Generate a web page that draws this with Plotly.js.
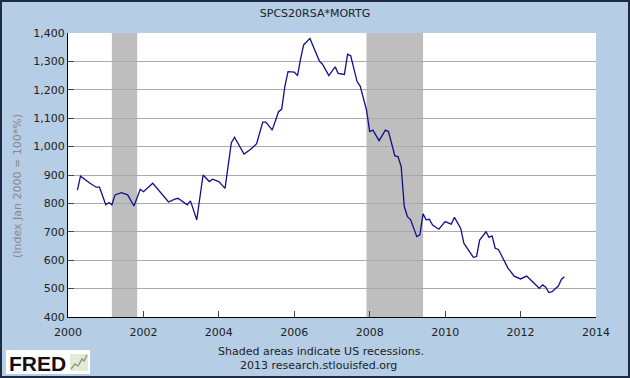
<!DOCTYPE html>
<html>
<head>
<meta charset="utf-8">
<script src="https://cdn.plot.ly/plotly-3.0.1.min.js"></script>
<style>
  html, body { margin: 0; padding: 0; background: #1F2B45; }
  #wrap { width: 626px; height: 374px; border: 2px solid #1F2B45; }
  #chart { width: 626px; height: 374px; }
</style>
</head>
<body>
<div id="wrap"><div id="chart"></div></div>
<script>
const dates = ['2000-04','2000-05','2000-08','2000-10','2000-11',
  '2001-01','2001-02','2001-03','2001-04','2001-06','2001-08','2001-10','2001-12',
  '2002-01','2002-04','2002-09','2002-11','2002-12',
  '2003-03','2003-04','2003-06','2003-08','2003-10','2003-11',
  '2004-01','2004-03','2004-05','2004-06','2004-09','2004-11',
  '2005-01','2005-03','2005-04','2005-06','2005-08','2005-09','2005-10','2005-11',
  '2006-01','2006-02','2006-03','2006-04','2006-06','2006-08','2006-09','2006-10','2006-12',
  '2007-02','2007-03','2007-05','2007-06','2007-07','2007-08','2007-09','2007-10','2007-12',
  '2008-01','2008-02','2008-04','2008-06','2008-07','2008-09','2008-10','2008-11','2008-12',
  '2009-01','2009-02','2009-04','2009-05','2009-06','2009-07','2009-08','2009-09','2009-11',
  '2010-01','2010-03','2010-04','2010-06','2010-07','2010-10','2010-11','2010-12',
  '2011-02','2011-03','2011-04','2011-05','2011-06','2011-09','2011-11',
  '2012-01','2012-03','2012-05','2012-07','2012-08','2012-09','2012-10','2012-11',
  '2013-01','2013-02','2013-03'];
const values = [847,896,871,857,857,
  795,803,795,830,838,830,791,850,
  841,871,805,815,818,
  795,809,742,900,877,885,
  877,853,1014,1033,974,990,
  1010,1086,1086,1058,1123,1132,1211,1264,
  1262,1250,1305,1358,1381,1325,1301,1290,1250,
  1281,1258,1254,1325,1320,1270,1229,1213,1129,
  1053,1058,1021,1058,1053,967,965,930,789,
  753,742,683,689,763,742,744,724,709,
  736,727,751,712,660,610,613,671,
  700,681,685,642,638,572,544,
  534,544,524,501,513,505,486,489,
  509,533,542];
const recessionStarts = ['2001-03-01','2007-12-01'];
const recessionEnds = ['2001-11-01','2009-06-01'];
const chartTitle = 'SPCS20RSA*MORTG';
const yAxisTitle = '(Index Jan 2000 = 100*%)';
const note1 = 'Shaded areas indicate US recessions.';
const note2 = '2013 research.stlouisfed.org';

const FONT = 'DejaVu Sans, Verdana, sans-serif';
const W = 626, H = 374;
const mL = 66, mR = 32, mT = 31, mB = 59;
const pw = W - mL - mR, ph = H - mT - mB;
const px = v => (v - mL) / pw;       // absolute x -> paper
const py = v => (H - mB - v) / ph;   // absolute y -> paper

const shapes = recessionStarts.map((s, i) => ({
  type: 'rect', xref: 'x', yref: 'paper', x0: s, x1: recessionEnds[i], y0: 0, y1: 1,
  fillcolor: '#BEBEBE', line: {width: 0}, layer: 'between'
}));
// FRED logo box
shapes.push({type: 'rect', xref: 'paper', yref: 'paper', x0: px(4), x1: px(88), y0: py(372), y1: py(348),
  fillcolor: '#FFFFFF', line: {width: 0}, layer: 'above'});
shapes.push({type: 'rect', xref: 'paper', yref: 'paper', x0: px(68), x1: px(86), y0: py(369), y1: py(352),
  fillcolor: '#E4EAD8', line: {width: 0}, layer: 'above'});
shapes.push({type: 'path', xref: 'paper', yref: 'paper',
  path: 'M ' + px(69) + ' ' + py(367) + ' L ' + px(73) + ' ' + py(362) + ' L ' + px(76) + ' ' + py(364) +
        ' L ' + px(80) + ' ' + py(357) + ' L ' + px(82) + ' ' + py(359) + ' L ' + px(85) + ' ' + py(353),
  line: {color: '#8AA07A', width: 1.5}, layer: 'above'});

const trace = {
  x: dates, y: values, type: 'scatter', mode: 'lines',
  line: {color: '#10108C', width: 1.3}, hoverinfo: 'skip'
};

const layout = {
  width: W, height: H,
  margin: {l: mL, r: mR, t: mT, b: mB, pad: 0},
  paper_bgcolor: '#B5CDE5', plot_bgcolor: '#FFFFFF',
  showlegend: false,
  font: {family: FONT, size: 11, color: '#222'},
  title: {text: chartTitle, font: {family: FONT, size: 11, color: '#222'},
    xref: 'container', x: 0.5, xanchor: 'center', yref: 'container', y: 1 - 11 / H, yanchor: 'middle'},
  xaxis: {
    type: 'date', range: ['2000-01-01', '2014-01-01'],
    tick0: '2000-01-01', dtick: 'M24', tickformat: '%Y',
    ticks: 'inside', ticklen: 6, tickcolor: '#444', tickwidth: 1,
    showline: true, linecolor: '#000', linewidth: 1, showgrid: false, zeroline: false,
    ticklabelstandoff: 5,
    tickfont: {family: FONT, size: 11, color: '#222'}, fixedrange: true
  },
  yaxis: {
    range: [400, 1400], tick0: 400, dtick: 100, tickformat: ',',
    ticks: 'inside', ticklen: 6, tickcolor: '#444', tickwidth: 1,
    showline: true, linecolor: '#000', linewidth: 1,
    showgrid: true, gridcolor: '#AAAAAA', gridwidth: 1, zeroline: false,
    tickfont: {family: FONT, size: 11, color: '#222'}, fixedrange: true
  },
  shapes: shapes,
  annotations: [
    {text: yAxisTitle, xref: 'paper', yref: 'paper', x: px(15), y: py(184), textangle: -90,
     showarrow: false, xanchor: 'center', yanchor: 'middle', font: {family: FONT, size: 11, color: '#888'}},
    {text: note1, xref: 'paper', yref: 'paper', x: px(319), y: py(349), showarrow: false,
     xanchor: 'center', yanchor: 'middle', font: {family: FONT, size: 11, color: '#222'}},
    {text: note2, xref: 'paper', yref: 'paper', x: px(316), y: py(363), showarrow: false,
     xanchor: 'center', yanchor: 'middle', font: {family: FONT, size: 11, color: '#222'}},
    {text: '<b>FRED</b>', xref: 'paper', yref: 'paper', x: px(5), y: py(361), showarrow: false,
     xanchor: 'left', yanchor: 'middle', font: {family: 'Liberation Sans, Arial, sans-serif', size: 21, color: '#111'}}
  ]
};

Plotly.newPlot('chart', [trace], layout, {displayModeBar: false, staticPlot: true});
</script>
</body>
</html>
